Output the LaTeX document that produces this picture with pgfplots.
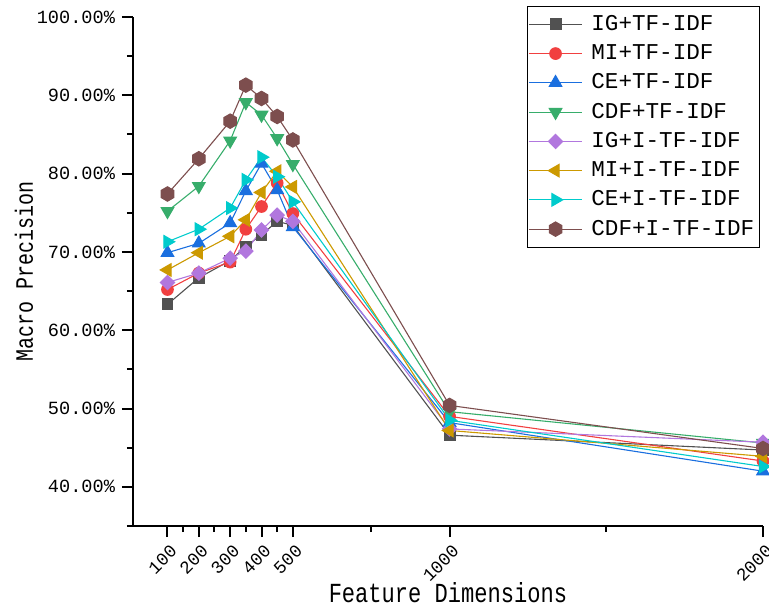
\documentclass[border=0pt]{standalone}
\usepackage{fontspec}
\setmainfont{Liberation Mono}
\newfontfamily\tallmono{Liberation Mono}[FakeStretch=0.8]
\usepackage{pgfplots}
\pgfplotsset{compat=1.18}

\definecolor{cIG}{HTML}{515151}
\definecolor{cMI}{HTML}{F14040}
\definecolor{cCE}{HTML}{1A6FDF}
\definecolor{cCDF}{HTML}{37AD6B}
\definecolor{cIGi}{HTML}{B177DE}
\definecolor{cMIi}{HTML}{CC9900}
\definecolor{cCEi}{HTML}{00CBCC}
\definecolor{cCDFi}{HTML}{7D4E4E}

% filled hexagon, pointy top
\pgfdeclareplotmark{hexagon*}{%
  \pgfpathmoveto{\pgfqpointpolar{90}{\pgfplotmarksize}}%
  \pgfpathlineto{\pgfqpointpolar{150}{\pgfplotmarksize}}%
  \pgfpathlineto{\pgfqpointpolar{210}{\pgfplotmarksize}}%
  \pgfpathlineto{\pgfqpointpolar{270}{\pgfplotmarksize}}%
  \pgfpathlineto{\pgfqpointpolar{330}{\pgfplotmarksize}}%
  \pgfpathlineto{\pgfqpointpolar{30}{\pgfplotmarksize}}%
  \pgfpathclose
  \pgfusepathqfillstroke}

\pgfplotsset{
  ser/.style={color=#1, line width=0.55pt, mark options={solid, fill=#1, draw=#1}},
}

\begin{document}
\begin{tikzpicture}
\begin{axis}[
    name=ax,
    scale only axis,
    width=315pt, height=254.5pt,
    xmin=-10, xmax=2000,
    ymin=35, ymax=100,
    axis x line*=bottom, axis y line*=left,
    axis line style={line width=1pt, -},
    xtick={100,200,300,400,500,1000,2000},
    xticklabels={100,200,300,400,500,1000,2000},
    minor xtick={150,250,350,450,750,1500},
    ytick={40,50,...,100},
    minor ytick={35,45,...,95},
    tick align=outside,
    major tick length=5.5pt, minor tick length=3pt,
    tick style={line width=1pt, black},
    yticklabel={\pgfmathprintnumber[fixed,fixed zerofill,precision=2,assume math mode=true]{\tick}\%},
    tick label style={font=\fontsize{9.3}{10}\selectfont},
    xticklabel style={rotate=45, anchor=east, xshift=1.8pt, yshift=-6.2pt, font=\fontsize{8.9}{10}\selectfont},
    xlabel={Feature Dimensions},
    ylabel={Macro Precision},
    every axis x label/.style={at={(axis description cs:0.5,0)}, anchor=base, yshift=-38pt,
      font=\tallmono\fontsize{13.8}{14}\selectfont},
    every axis y label/.style={at={(axis description cs:0,0.5)}, xshift=-54.5pt, rotate=90, anchor=center,
      font=\tallmono\fontsize{12.5}{13}\selectfont},
    legend cell align=left,
    legend style={at={(0.625,1.022)}, anchor=north west, draw=black, line width=0.5pt,
      font=\fontsize{11.3}{12}\selectfont, row sep=1.6pt, inner xsep=0.5pt, inner ysep=2.5pt},
    legend image code/.code={%
      \draw[mark repeat=2,mark phase=2] plot coordinates {(0cm,0cm) (0.47cm,0cm) (0.94cm,0cm)};
      \path (1.02cm,0cm);},
]
\addplot[ser=cIG, mark=square*, mark size=2.7pt] coordinates {
  (100,63.3) (200,66.7) (300,68.9) (350,70.7) (400,72.2) (450,73.9) (500,73.4) (1000,46.6) (2000,44.7)};
\addplot[ser=cMI, mark=*, mark size=2.9pt] coordinates {
  (100,65.2) (200,67.3) (300,68.7) (350,72.9) (400,75.8) (450,78.8) (500,74.9) (1000,49.0) (2000,43.3)};
\addplot[ser=cCE, mark=triangle*, mark size=3.6pt] coordinates {
  (100,69.9) (200,71.1) (300,73.7) (350,77.8) (400,81.3) (450,77.9) (500,73.2) (1000,48.2) (2000,42.0)};
\addplot[ser=cCDF, mark=triangle*, mark size=3.6pt, mark options={rotate=180}] coordinates {
  (100,75.2) (200,78.4) (300,84.2) (350,89.1) (400,87.5) (450,84.5) (500,81.2) (1000,49.6) (2000,45.6)};
\addplot[ser=cIGi, mark=square*, mark size=2.5pt, mark options={rotate=45}] coordinates {
  (100,66.1) (200,67.3) (300,69.2) (350,70.1) (400,72.8) (450,74.7) (500,73.9) (1000,47.4) (2000,45.7)};
\addplot[ser=cMIi, mark=triangle*, mark size=3.6pt, mark options={rotate=90}] coordinates {
  (100,67.7) (200,69.9) (300,72.0) (350,74.1) (400,77.6) (450,80.3) (500,78.3) (1000,47.2) (2000,43.9)};
\addplot[ser=cCEi, mark=triangle*, mark size=3.6pt, mark options={rotate=-90}] coordinates {
  (100,71.3) (200,72.9) (300,75.6) (350,79.2) (400,82.1) (450,79.6) (500,76.4) (1000,48.5) (2000,42.6)};
\addplot[ser=cCDFi, mark=hexagon*, mark size=3.6pt] coordinates {
  (100,77.4) (200,81.9) (300,86.7) (350,91.3) (400,89.6) (450,87.3) (500,84.3) (1000,50.4) (2000,44.9)};
\legend{IG+TF-IDF,MI+TF-IDF,CE+TF-IDF,CDF+TF-IDF,IG+I-TF-IDF,MI+I-TF-IDF,CE+I-TF-IDF,CDF+I-TF-IDF}
\end{axis}
\pgfresetboundingbox
\path[use as bounding box] ([shift={(-66.5pt,-40pt)}]ax.south west) rectangle ++(384.5pt,303pt);
\end{tikzpicture}
\end{document}
